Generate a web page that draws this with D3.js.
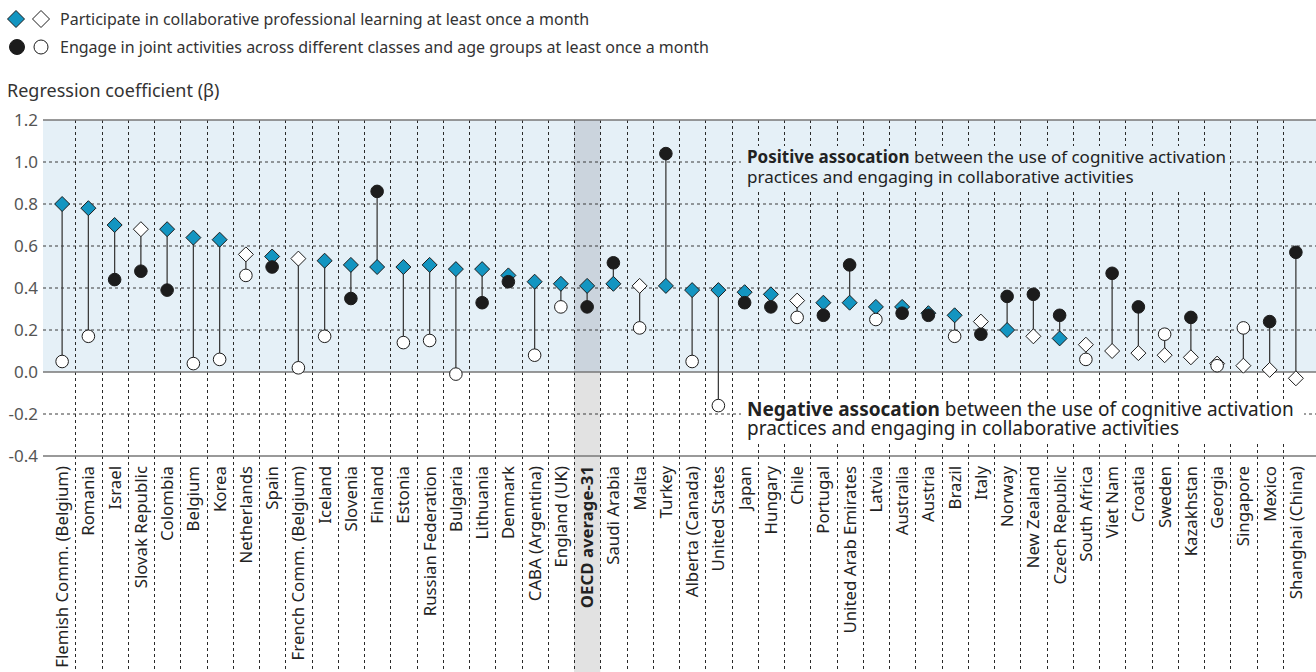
<!DOCTYPE html>
<html>
<head>
<meta charset="utf-8">
<script src="https://cdn.jsdelivr.net/npm/d3@7"></script>
<style>
  html, body { margin: 0; padding: 0; background: #fff; }
  svg { display: block; font-family: "Noto Sans", "Open Sans", sans-serif; }
</style>
</head>
<body>
<svg id="chart" width="1316" height="672"></svg>
<script>
// Countries and economies, ordered by the coefficient for collaborative professional learning
const categories = [
  "Flemish Comm. (Belgium)", "Romania", "Israel", "Slovak Republic", "Colombia", "Belgium",
  "Korea", "Netherlands", "Spain", "French Comm. (Belgium)", "Iceland", "Slovenia", "Finland",
  "Estonia", "Russian Federation", "Bulgaria", "Lithuania", "Denmark", "CABA (Argentina)",
  "England (UK)", "OECD average-31", "Saudi Arabia", "Malta", "Turkey", "Alberta (Canada)",
  "United States", "Japan", "Hungary", "Chile", "Portugal", "United Arab Emirates", "Latvia",
  "Australia", "Austria", "Brazil", "Italy", "Norway", "New Zealand", "Czech Republic",
  "South Africa", "Viet Nam", "Croatia", "Sweden", "Kazakhstan", "Georgia", "Singapore",
  "Mexico", "Shanghai (China)"
];

// Participate in collaborative professional learning at least once a month
const learningCoef = [
  0.80, 0.78, 0.70, 0.68, 0.68, 0.64, 0.63, 0.56, 0.55, 0.54, 0.53, 0.51, 0.50,
  0.50, 0.51, 0.49, 0.49, 0.46, 0.43, 0.42, 0.41, 0.42, 0.41, 0.41, 0.39,
  0.39, 0.38, 0.37, 0.34, 0.33, 0.33, 0.31, 0.31, 0.28, 0.27, 0.24, 0.20, 0.17, 0.16,
  0.13, 0.10, 0.09, 0.08, 0.07, 0.04, 0.03, 0.01, -0.03
];
// 1 = statistically significant (filled marker)
const learningSig = [
  1, 1, 1, 0, 1, 1, 1, 0, 1, 0, 1, 1, 1,
  1, 1, 1, 1, 1, 1, 1, 1, 1, 0, 1, 1,
  1, 1, 1, 0, 1, 1, 1, 1, 1, 1, 0, 1, 0, 1,
  0, 0, 0, 0, 0, 0, 0, 0, 0
];

// Engage in joint activities across different classes and age groups at least once a month
const jointCoef = [
  0.05, 0.17, 0.44, 0.48, 0.39, 0.04, 0.06, 0.46, 0.50, 0.02, 0.17, 0.35, 0.86,
  0.14, 0.15, -0.01, 0.33, 0.43, 0.08, 0.31, 0.31, 0.52, 0.21, 1.04, 0.05,
  -0.16, 0.33, 0.31, 0.26, 0.27, 0.51, 0.25, 0.28, 0.27, 0.17, 0.18, 0.36, 0.37, 0.27,
  0.06, 0.47, 0.31, 0.18, 0.26, 0.03, 0.21, 0.24, 0.57
];
const jointSig = [
  0, 0, 1, 1, 1, 0, 0, 0, 1, 0, 0, 1, 1,
  0, 0, 0, 1, 1, 0, 0, 1, 1, 0, 1, 0,
  0, 1, 1, 0, 1, 1, 0, 1, 1, 0, 1, 1, 1, 1,
  0, 1, 1, 0, 1, 0, 0, 1, 1
];

const yTicks = [1.2, 1.0, 0.8, 0.6, 0.4, 0.2, 0.0, -0.2, -0.4];
const yTickLabels = ["1.2", "1.0", "0.8", "0.6", "0.4", "0.2", "0.0", "-0.2", "-0.4"];
const averageLabel = "OECD average-31";

const legendItems = [
  "Participate in collaborative professional learning at least once a month",
  "Engage in joint activities across different classes and age groups at least once a month"
];
const positiveNote = ["Positive assocation", " between the use of cognitive activation",
                      "practices and engaging in collaborative activities"];
const negativeNote = ["Negative assocation", " between the use of cognitive activation",
                      "practices and engaging in collaborative activities"];

// ---- styling ----
const BLUE = "#1395c1";
const INK = "#1c1c1c";
const PLOT_BG = "#e5f0f7";
const AVG_BG_POS = "#cbd4dd";
const AVG_BG_NEG = "#e2e2e2";

const svg = d3.select("#chart");
const W = 1316, H = 672;
const plotLeft = 43, plotRight = 1316;

const x = d3.scaleBand().domain(categories).range([49, 1309]).padding(0);
const y = d3.scaleLinear().domain([-0.4, 1.2]).range([456, 120]);
const cx = d => x(d) + x.bandwidth() / 2;

const diamond = s => `M0,${-s}L${s},0L0,${s}L${-s},0Z`;

// ---- backgrounds ----
svg.append("rect")
  .attr("x", plotLeft).attr("y", y(1.2))
  .attr("width", plotRight - plotLeft).attr("height", y(0) - y(1.2))
  .attr("fill", PLOT_BG);

// OECD average column
svg.append("rect")
  .attr("x", x(averageLabel)).attr("y", y(1.2))
  .attr("width", x.bandwidth()).attr("height", y(0) - y(1.2))
  .attr("fill", AVG_BG_POS);
svg.append("rect")
  .attr("x", x(averageLabel)).attr("y", y(0))
  .attr("width", x.bandwidth()).attr("height", H - y(0))
  .attr("fill", AVG_BG_NEG);

// ---- grid ----
const solidTicks = [1.2, 0.0, -0.4];
svg.append("g").selectAll("line")
  .data(yTicks.filter(t => !solidTicks.includes(t)))
  .join("line")
  .attr("x1", plotLeft).attr("x2", plotRight)
  .attr("y1", d => y(d)).attr("y2", d => y(d))
  .attr("stroke", "#3a3a3a").attr("stroke-width", 1)
  .attr("stroke-dasharray", "3,3");

// vertical separators between categories
svg.append("g").selectAll("line")
  .data(categories.slice(1))
  .join("line")
  .attr("x1", d => Math.round(x(d)) + 0.5).attr("x2", d => Math.round(x(d)) + 0.5)
  .attr("y1", y(1.2)).attr("y2", H)
  .attr("stroke", "#2a2a2a").attr("stroke-width", 1)
  .attr("stroke-dasharray", "3,3");

// note boxes hide the grid behind the notes
svg.append("rect").attr("x", 741).attr("y", 146).attr("width", 488).attr("height", 43)
  .attr("fill", PLOT_BG);
svg.append("rect").attr("x", 741).attr("y", 399).attr("width", 563).attr("height", 42)
  .attr("fill", "#fff");

svg.append("g").selectAll("line")
  .data(solidTicks)
  .join("line")
  .attr("x1", plotLeft).attr("x2", plotRight)
  .attr("y1", d => y(d)).attr("y2", d => y(d))
  .attr("stroke", "#777").attr("stroke-width", 1.6);

// ---- y axis labels ----
svg.append("g").selectAll("text")
  .data(yTicks)
  .join("text")
  .attr("x", 38).attr("y", d => y(d)).attr("dy", "0.35em")
  .attr("text-anchor", "end")
  .attr("font-size", 17).attr("fill", "#555")
  .text((d, i) => yTickLabels[i]);

svg.append("text")
  .attr("x", 7).attr("y", 97)
  .attr("font-size", 18).attr("fill", "#333")
  .text("Regression coefficient (\u03b2)");

// ---- notes: one text block per note, two lines ----
function note(lines, x0, y0, lh, size) {
  const t = svg.append("text").attr("x", x0).attr("y", y0)
    .attr("font-size", size).attr("fill", "#222");
  t.append("tspan").attr("font-weight", "bold").text(lines[0]);
  t.append("tspan").text(lines[1]);
  t.append("tspan").attr("x", x0).attr("dy", lh).text(lines[2]);
}
note(positiveNote, 747, 163, 20, 17);
note(negativeNote, 747, 416, 18.5, 19);

// ---- lollipops ----
const rows = categories.map((c, i) => ({
  c, a: learningCoef[i], aSig: learningSig[i], b: jointCoef[i], bSig: jointSig[i]
}));

svg.append("g").selectAll("line")
  .data(rows)
  .join("line")
  .attr("x1", d => cx(d.c)).attr("x2", d => cx(d.c))
  .attr("y1", d => y(d.a)).attr("y2", d => y(d.b))
  .attr("stroke", "#3c3c3c").attr("stroke-width", 1.3);

svg.append("g").selectAll("path")
  .data(rows)
  .join("path")
  .attr("transform", d => `translate(${cx(d.c)},${y(d.a)})`)
  .attr("d", diamond(7.5))
  .attr("fill", d => d.aSig ? BLUE : "#fff")
  .attr("stroke", INK).attr("stroke-width", 1);

svg.append("g").selectAll("circle")
  .data(rows)
  .join("circle")
  .attr("cx", d => cx(d.c)).attr("cy", d => y(d.b))
  .attr("r", 6.3)
  .attr("fill", d => d.bSig ? INK : "#fff")
  .attr("stroke", INK).attr("stroke-width", 1);

// ---- category labels ----
svg.append("g").selectAll("text")
  .data(categories)
  .join("text")
  .attr("transform", d => `translate(${cx(d)},466) rotate(-90)`)
  .attr("dy", "0.36em")
  .attr("text-anchor", "end")
  .attr("font-size", 16.8)
  .attr("font-weight", d => d === averageLabel ? "bold" : "normal")
  .attr("fill", "#222")
  .text(d => d);

// ---- legend ----
const lg = svg.append("g");
lg.append("path").attr("transform", "translate(16,19)").attr("d", diamond(8.5))
  .attr("fill", BLUE).attr("stroke", INK).attr("stroke-width", 1);
lg.append("path").attr("transform", "translate(41,19)").attr("d", diamond(8.5))
  .attr("fill", "#fff").attr("stroke", INK).attr("stroke-width", 1);
lg.append("text").attr("x", 60).attr("y", 19).attr("dy", "0.35em")
  .attr("font-size", 16).attr("fill", "#333").text(legendItems[0]);

lg.append("circle").attr("cx", 17).attr("cy", 47).attr("r", 7.5)
  .attr("fill", INK).attr("stroke", INK);
lg.append("circle").attr("cx", 41).attr("cy", 47).attr("r", 7)
  .attr("fill", "#fff").attr("stroke", INK);
lg.append("text").attr("x", 60).attr("y", 47).attr("dy", "0.35em")
  .attr("font-size", 16).attr("fill", "#333").text(legendItems[1]);
</script>
</body>
</html>
